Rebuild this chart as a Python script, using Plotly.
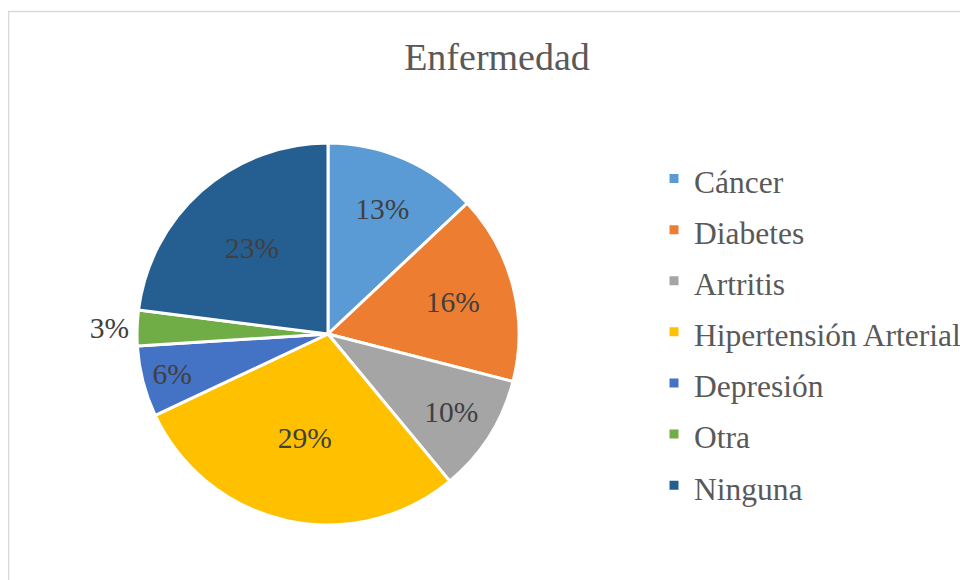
import plotly.graph_objects as go

categories = ["Cáncer", "Diabetes", "Artritis", "Hipertensión Arterial", "Depresión", "Otra", "Ninguna"]
values = [13, 16, 10, 29, 6, 3, 23]
colors = ["#5B9BD5", "#ED7D31", "#A5A5A5", "#FFC000", "#4472C4", "#70AD47", "#255E91"]
text_positions = ["inside", "inside", "inside", "inside", "inside", "outside", "inside"]
title_text = "Enfermedad"

OFF = 8
W, H = 960, 572
FONT = "'Liberation Serif', 'Times New Roman', Times, serif"

def px(x):
    return (x - OFF) / W

def py(y):
    return 1 - (y - OFF) / H

cx, cy, r = 328, 334, 191

legend_labels = ['<span style="font-size:31.5px">%s</span>' % c for c in categories]

fig = go.Figure()
fig.add_trace(go.Pie(
    labels=legend_labels,
    values=values,
    sort=False,
    direction="clockwise",
    rotation=0,
    marker=dict(colors=colors, line=dict(color="white", width=3)),
    texttemplate="%{percent:.0%}",
    textposition=text_positions,
    insidetextorientation="horizontal",
    textfont=dict(family=FONT, size=29.5, color="#404040"),
    outsidetextfont=dict(family=FONT, size=29.5, color="#404040"),
    domain=dict(x=[px(cx - r), px(cx + r)], y=[py(cy + r), py(cy - r)]),
    hoverinfo="label+percent",
))

fig.update_layout(
    width=W, height=H,
    margin=dict(l=0, r=0, t=0, b=0),
    paper_bgcolor="white",
    plot_bgcolor="white",
    font=dict(family=FONT),
    title=dict(text=title_text, x=px(497), xanchor="center", y=py(57), yanchor="middle",
               font=dict(family=FONT, size=38, color="#595959")),
    showlegend=True,
    legend=dict(
        x=px(654), xanchor="left",
        y=py(148), yanchor="top",
        font=dict(family=FONT, size=37, color="#595959"),
        bgcolor="rgba(0,0,0,0)",
        traceorder="normal",
    ),
    shapes=[dict(type="rect", xref="paper", yref="paper",
                 x0=0.6 / W, x1=1.2, y0=-0.2, y1=py(11.5),
                 line=dict(color="#D9D9D9", width=1.5), fillcolor="rgba(0,0,0,0)", layer="below")],
)

fig.write_html("out.html")
